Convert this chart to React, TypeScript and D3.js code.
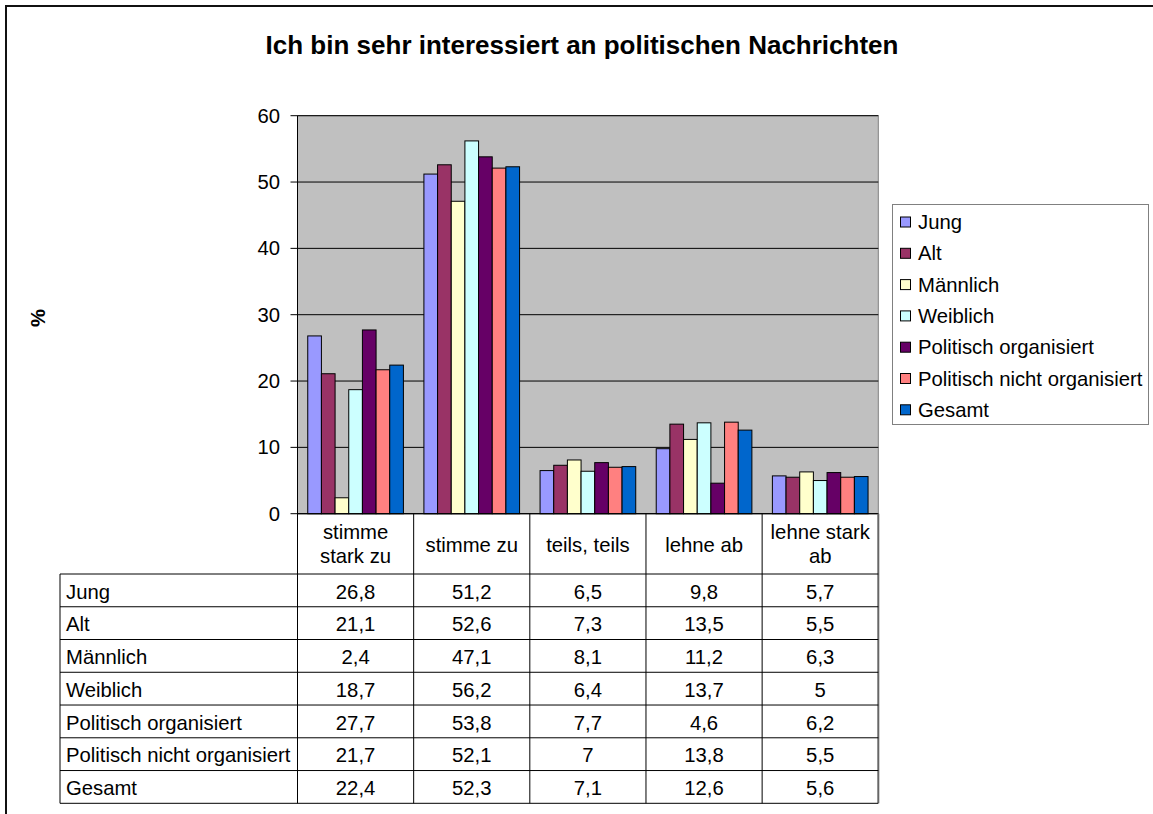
import React from "react";
import * as d3 from "d3";

const title = "Ich bin sehr interessiert an politischen Nachrichten";
const categories = ["stimme stark zu", "stimme zu", "teils, teils", "lehne ab", "lehne stark ab"];
const categoryLines = [["stimme", "stark zu"], ["stimme zu"], ["teils, teils"], ["lehne ab"], ["lehne stark", "ab"]];
const seriesNames = ["Jung", "Alt", "Männlich", "Weiblich", "Politisch organisiert", "Politisch nicht organisiert", "Gesamt"];
const jung = [26.8, 51.2, 6.5, 9.8, 5.7];
const alt = [21.1, 52.6, 7.3, 13.5, 5.5];
const maennlich = [2.4, 47.1, 8.1, 11.2, 6.3];
const weiblich = [18.7, 56.2, 6.4, 13.7, 5];
const politOrg = [27.7, 53.8, 7.7, 4.6, 6.2];
const politNichtOrg = [21.7, 52.1, 7, 13.8, 5.5];
const gesamt = [22.4, 52.3, 7.1, 12.6, 5.6];
const seriesValues = [jung, alt, maennlich, weiblich, politOrg, politNichtOrg, gesamt];
const seriesColors = ["#9999FF", "#993366", "#FFFFCC", "#CCFFFF", "#660066", "#FF8080", "#0066CC"];
const yTicks = [0, 10, 20, 30, 40, 50, 60];

const FONT = "'Liberation Sans', Arial, sans-serif";
const FS = 20.3;

export default function App() {
  const W = 1153, H = 814;
  const plotL = 297.5, plotR = 878.3, plotT = 115.7, plotB = 513.7;
  const x0 = d3.scaleBand<string>().domain(categories).range([plotL, plotR]).padding(0);
  const x1 = d3.scaleBand<string>().domain(seriesNames).range([0, x0.bandwidth()]).paddingInner(0).paddingOuter(0.75);
  const y = d3.scaleLinear().domain([0, 60]).range([plotB, plotT]);

  const tableTop = 574;
  const tableLeft = 60;
  const rowH = (803.3 - tableTop) / seriesNames.length;
  const fmt = (v: number) => String(v).replace(".", ",");

  const legX = 892.5, legY = 204.5, legW = 256, legH = 220;
  const legRow0 = 222, legStep = 31.3;

  return (
    <svg width={W} height={H} style={{ position: "absolute", left: 0, top: 0, background: "#fff" }} fontFamily={FONT}>
      <rect x={0} y={0} width={W} height={H} fill="#fff" />
      {/* outer chart border */}
      <rect x={6} y={6} width={W + 20} height={H + 20} fill="none" stroke="#111" strokeWidth={2} />
      {/* title */}
      <text x={582} y={54} textAnchor="middle" fontSize={26} fontWeight="bold" fill="#000">{title}</text>
      {/* y axis title */}
      <text transform={`translate(45,318) rotate(-90)`} textAnchor="middle" fontSize={FS} fontWeight="bold">%</text>

      {/* plot area */}
      <rect x={plotL} y={plotT} width={plotR - plotL} height={plotB - plotT} fill="#C0C0C0" stroke="#808080" strokeWidth={1} />
      {yTicks.map((t) => (
        <line key={"g" + t} x1={plotL} x2={plotR} y1={y(t)} y2={y(t)} stroke="#000" strokeWidth={1} />
      ))}

      {/* bars */}
      {categories.map((c, ci) => (
        <g key={c}>
          {seriesNames.map((s, si) => {
            const v = seriesValues[si][ci];
            const bx = (x0(c) as number) + (x1(s) as number);
            return (
              <rect key={s} x={bx} y={y(v)} width={x1.bandwidth()} height={y(0) - y(v)}
                fill={seriesColors[si]} stroke="#000" strokeWidth={1} />
            );
          })}
        </g>
      ))}

      {/* y axis */}
      <line x1={plotL} x2={plotL} y1={plotT} y2={803.3} stroke="#000" strokeWidth={1} />
      <line x1={plotL} x2={plotR} y1={plotB} y2={plotB} stroke="#000" strokeWidth={1} />
      {yTicks.map((t) => (
        <g key={"t" + t}>
          <line x1={plotL - 7} x2={plotL} y1={y(t)} y2={y(t)} stroke="#000" strokeWidth={1} />
          <text x={280} y={y(t) + 7} textAnchor="end" fontSize={FS}>{t}</text>
        </g>
      ))}

      {/* data table */}
      {categories.map((c, ci) => {
        const cx = (x0(c) as number) + x0.bandwidth() / 2;
        const lines = categoryLines[ci];
        return (
          <g key={"h" + c}>
            {lines.length === 1 ? (
              <text x={cx} y={552} textAnchor="middle" fontSize={FS}>{lines[0]}</text>
            ) : (
              lines.map((l, li) => (
                <text key={li} x={cx} y={539 + li * 24} textAnchor="middle" fontSize={FS}>{l}</text>
              ))
            )}
          </g>
        );
      })}
      {categories.map((c) => (
        <line key={"v" + c} x1={(x0(c) as number) + x0.bandwidth()} x2={(x0(c) as number) + x0.bandwidth()}
          y1={plotB} y2={803.3} stroke={c === categories[categories.length - 1] ? "#666" : "#000"} strokeWidth={c === categories[categories.length - 1] ? 2 : 1} />
      ))}
      <line x1={tableLeft} x2={tableLeft} y1={tableTop} y2={803.3} stroke="#000" strokeWidth={1} />
      {d3.range(seriesNames.length + 1).map((i) => (
        <line key={"r" + i} x1={tableLeft} x2={plotR} y1={tableTop + i * rowH} y2={tableTop + i * rowH} stroke="#000" strokeWidth={1} />
      ))}
      {seriesNames.map((s, si) => (
        <g key={"row" + s}>
          <text x={66} y={tableTop + si * rowH + 24.5} fontSize={FS}>{s}</text>
          {categories.map((c, ci) => (
            <text key={c} x={(x0(c) as number) + x0.bandwidth() / 2} y={tableTop + si * rowH + 24.5} textAnchor="middle" fontSize={FS}>
              {fmt(seriesValues[si][ci])}
            </text>
          ))}
        </g>
      ))}

      {/* legend */}
      <rect x={legX} y={legY} width={legW} height={legH} fill="#fff" stroke="#808080" strokeWidth={1} />
      {seriesNames.map((s, si) => (
        <g key={"l" + s}>
          <rect x={900.5} y={legRow0 + si * legStep - 5} width={10} height={10} fill={seriesColors[si]} stroke="#000" strokeWidth={1} />
          <text x={918} y={legRow0 + si * legStep + 7} fontSize={FS}>{s}</text>
        </g>
      ))}
    </svg>
  );
}
